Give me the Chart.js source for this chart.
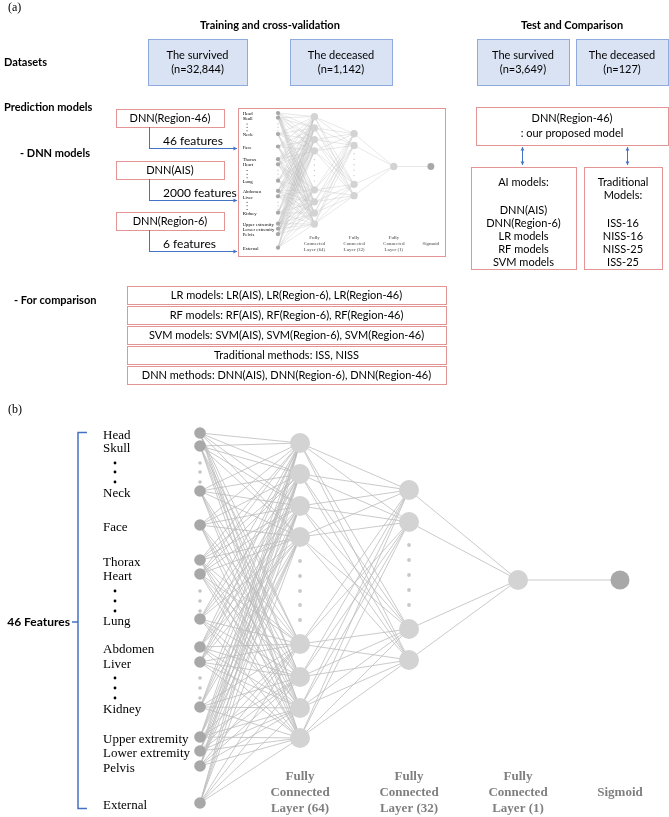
<!DOCTYPE html>
<html>
<head>
<meta charset="utf-8">
<script src="https://cdn.jsdelivr.net/npm/chart.js@4.4.1/dist/chart.umd.min.js"></script>
<style>
	html, body { margin: 0; padding: 0; background: #fff; }
	#wrap { width: 669px; height: 817px; }
</style>
</head>
<body>
<div id="wrap"><canvas id="diagrama" width="669" height="817"></canvas></div>
<script>
// network nodes (b)
inputLabels = ['Head', 'Skull', 'Neck', 'Face', 'Thorax', 'Heart', 'Lung', 'Abdomen', 'Liver', 'Kidney', 'Upper extremity', 'Lower extremity', 'Pelvis', 'External']
inputY = [433, 446, 491, 525, 560, 574, 619, 647, 662, 707, 737, 751, 766, 803]
inputDotY = [463, 472, 482, 591, 601, 611, 678, 688, 698]
fc64Y = [443, 474, 506, 537, 644, 677, 708, 738]
fc64DotY = [561, 576, 591, 605, 620]
fc32Y = [490, 522, 629, 660]
fc32DotY = [545, 560, 575, 590, 605]
fc1Y = [580]
sigmoidY = [580]
layerX = [200, 300, 409, 518, 620]
layerNames = [['Fully', 'Connected', 'Layer (64)'], ['Fully', 'Connected', 'Layer (32)'], ['Fully', 'Connected', 'Layer (1)'], ['Sigmoid']]

// flowchart texts (a)
trainSets = [['The survived', '(n=32,844)'], ['The deceased', '(n=1,142)']]
testSets = [['The survived', '(n=3,649)'], ['The deceased', '(n=127)']]
dnnModels = ['DNN(Region-46)', 'DNN(AIS)', 'DNN(Region-6)']
dnnFeatures = ['46 features', '2000 features', '6 features']
aiModels = ['AI models:', '', 'DNN(AIS)', 'DNN(Region-6)', 'LR models', 'RF models', 'SVM models']
tradModels = ['Traditional', 'Models:', '', 'ISS-16', 'NISS-16', 'NISS-25', 'ISS-25']
comparacao = ['LR models: LR(AIS), LR(Region-6), LR(Region-46)', 'RF models: RF(AIS), RF(Region-6), RF(Region-46)', 'SVM models: SVM(AIS), SVM(Region-6), SVM(Region-46)', 'Traditional methods: ISS, NISS', 'DNN methods: DNN(AIS), DNN(Region-6), DNN(Region-46)']

K = 0.364
function grande(x, y) { return { x: x, y: y } }
function mini(x, y) { return { x: 278 + (x - 200) * K, y: 113 + (y - 433) * K } }

function arestas(f) {
	var pts = []
	function liga(xa, ya, xb, yb) {
		for (var i = 0; i < ya.length; i++) {
			for (var j = 0; j < yb.length; j++) {
				pts.push(f(xa, ya[i]), f(xb, yb[j]), { x: 0, y: null })
			}
		}
	}
	liga(layerX[0], inputY, layerX[1], fc64Y)
	liga(layerX[1], fc64Y, layerX[2], fc32Y)
	liga(layerX[2], fc32Y, layerX[3], fc1Y)
	liga(layerX[3], fc1Y, layerX[4], sigmoidY)
	return pts
}

function nos(f, s) {
	function pontos(x, ys) { return ys.map((y) => f(x, y)) }
	var base = { type: 'scatter', pointBorderWidth: 0, pointHoverRadius: 0, order: 1 }
	return [
		Object.assign({}, base, { data: pontos(layerX[0], inputY), pointRadius: 5.8 * s, pointBackgroundColor: '#a8a8a8' }),
		Object.assign({}, base, { data: pontos(layerX[0], inputDotY), pointRadius: 1.8 * s, pointBackgroundColor: '#c4c4c4' }),
		Object.assign({}, base, { data: pontos(layerX[1], fc64Y).concat(pontos(layerX[2], fc32Y), pontos(layerX[3], fc1Y)), pointRadius: 10 * s, pointBackgroundColor: '#d3d3d3' }),
		Object.assign({}, base, { data: pontos(layerX[1], fc64DotY).concat(pontos(layerX[2], fc32DotY)), pointRadius: 1.9 * s, pointBackgroundColor: '#c8c8c8' }),
		Object.assign({}, base, { data: pontos(layerX[4], sigmoidY), pointRadius: 9.5 * s, pointBackgroundColor: '#a8a8a8' }),
	]
}

function linhas(f, w) {
	return {
		type: 'line', data: arestas(f), borderColor: '#bdbdbd', borderWidth: w,
		pointRadius: 0, spanGaps: false, fill: false, tension: 0, order: 2
	}
}

var desenho = {
	id: 'desenho',
	beforeDatasetsDraw(chart) {
		var ctx = chart.ctx, X = chart.scales.x, Y = chart.scales.y
		function caixa(x0, y0, x1, y1, cor, fundo) {
			var a = X.getPixelForValue(x0), b = Y.getPixelForValue(y0)
			var w = X.getPixelForValue(x1) - a, h = Y.getPixelForValue(y1) - b
			if (fundo) { ctx.fillStyle = fundo; ctx.fillRect(a, b, w, h) }
			ctx.strokeStyle = cor; ctx.lineWidth = 1
			ctx.strokeRect(Math.round(a) + 0.5, Math.round(b) + 0.5, Math.round(w), Math.round(h))
		}
		ctx.save()
		var azul = '#dae3f3', azulB = '#8faadc', verm = '#e49494'
		caixa(148, 39, 247, 85, azulB, azul)
		caixa(290, 39, 392, 85, azulB, azul)
		caixa(477, 39, 569, 85, azulB, azul)
		caixa(576, 39, 668, 85, azulB, azul)
		caixa(116, 109, 224, 127, verm)
		caixa(116, 161, 224, 179, verm)
		caixa(116, 212, 224, 230, verm)
		caixa(238, 108, 445, 256, verm)
		caixa(476, 107, 668, 145, verm)
		caixa(471, 167, 576, 269, verm)
		caixa(584, 167, 662, 269, verm)
		comparacao.forEach((t, i) => caixa(127, 286 + i * 20, 446, 304 + i * 20, verm))
		ctx.restore()
	},
	afterDatasetsDraw(chart) {
		var ctx = chart.ctx, X = chart.scales.x, Y = chart.scales.y
		function txt(s, x, y, font, cor, al) {
			ctx.font = font; ctx.fillStyle = cor || '#000'
			ctx.textAlign = al || 'center'; ctx.textBaseline = 'middle'
			ctx.fillText(s, X.getPixelForValue(x), Y.getPixelForValue(y))
		}
		function seta(x0, y0, x1, y1, duas) {
			var a = X.getPixelForValue(x0), b = Y.getPixelForValue(y0)
			var c = X.getPixelForValue(x1), d = Y.getPixelForValue(y1)
			ctx.strokeStyle = '#4472c4'; ctx.fillStyle = '#4472c4'; ctx.lineWidth = 1
			ctx.beginPath(); ctx.moveTo(a, b); ctx.lineTo(c, d); ctx.stroke()
			function ponta(px, py, ang) {
				ctx.beginPath(); ctx.moveTo(px, py)
				ctx.lineTo(px - 4 * Math.cos(ang - 0.5), py - 4 * Math.sin(ang - 0.5))
				ctx.lineTo(px - 4 * Math.cos(ang + 0.5), py - 4 * Math.sin(ang + 0.5))
				ctx.closePath(); ctx.fill()
			}
			var ang = Math.atan2(d - b, c - a)
			ponta(c, d, ang)
			if (duas) ponta(a, b, ang + Math.PI)
		}
		var sans = '11px Lato', bold = 'bold 11px Lato'
		ctx.save()
		txt('(a)', 8, 8, '12px "Liberation Serif"', '#000', 'left')
		txt('Training and cross-validation', 270, 25, bold)
		txt('Test and Comparison', 572, 25, bold)
		txt('Datasets', 4, 62, bold, '#000', 'left')
		txt('Prediction models', 4, 107, bold, '#000', 'left')
		txt('- DNN models', 20, 153, bold, '#000', 'left')
		txt('- For comparison', 14, 300, bold, '#000', 'left')
		var cx = [197.5, 341, 523, 622]
		trainSets.concat(testSets).forEach((l, i) => {
			txt(l[0], cx[i], 55, sans); txt(l[1], cx[i], 69, sans)
		})
		dnnModels.forEach((m, i) => {
			var y0 = [109, 161, 212][i]
			txt(m, 170, y0 + 9.5, sans)
			txt(dnnFeatures[i], 163, y0 + 32, '12px Lato', '#000', 'left')
			ctx.strokeStyle = '#4472c4'; ctx.lineWidth = 1
			ctx.beginPath(); ctx.moveTo(149.5, y0 + 18); ctx.lineTo(149.5, y0 + 39.5); ctx.stroke()
			seta(149, y0 + 39.5, 237, y0 + 39.5)
		})
		txt('DNN(Region-46)', 572, 118, sans)
		txt(': our proposed model', 572, 133, sans)
		seta(522.5, 147, 522.5, 165, true)
		seta(627.5, 147, 627.5, 165, true)
		aiModels.forEach((t, i) => { if (t) txt(t, 523.5, i < 2 ? 182 + i * 13 : 184 + i * 13, sans) })
		tradModels.forEach((t, i) => { if (t) txt(t, 623, i < 2 ? 182 + i * 13 : 184 + i * 13, sans) })
		comparacao.forEach((t, i) => txt(t, 286.5, 295.5 + i * 20, sans))

		// (b)
		txt('(b)', 8, 410, '12px "Liberation Serif"', '#000', 'left')
		ctx.strokeStyle = '#4472c4'; ctx.lineWidth = 1.5
		ctx.beginPath()
		ctx.moveTo(87, 432.5); ctx.lineTo(78, 432.5); ctx.lineTo(78, 808.5); ctx.lineTo(87, 808.5)
		ctx.moveTo(72, 622); ctx.lineTo(78, 622)
		ctx.stroke()
		txt('46 Features', 70, 622, 'bold 12px Lato', '#000', 'right')

		function rotulos(f, s) {
			inputLabels.forEach((l, i) => {
				var p = f(103, inputY[i] + 2.5)
				txt(l, p.x, p.y, (13 * s) + 'px "Liberation Serif"', '#000', 'left')
			})
			ctx.fillStyle = '#000'
			inputDotY.forEach((y) => {
				var p = f(115, y)
				ctx.beginPath(); ctx.arc(X.getPixelForValue(p.x), Y.getPixelForValue(p.y), 1.4 * s, 0, 2 * Math.PI); ctx.fill()
			})
			layerNames.forEach((ls, i) => {
				ls.forEach((l, j) => {
					var y = ls.length == 1 ? 793 : 777 + j * 16
					var p = f(layerX[i + 1], y)
					txt(l, p.x, p.y, 'bold ' + (13 * s) + 'px "Liberation Serif"', '#7f7f7f')
				})
			})
		}
		rotulos(grande, 1)
		rotulos(mini, K)
		ctx.restore()
	}
}

function geraDiagrama() {
	var ctx = document.getElementById('diagrama').getContext('2d')
	window.diagrama = new Chart(ctx, {
		type: 'scatter',
		data: {
			datasets: nos(grande, 1).concat(nos(mini, K), [linhas(grande, 0.8), linhas(mini, 0.35)])
		},
		options: {
			responsive: false,
			animation: false,
			layout: { padding: 0, autoPadding: false },
			plugins: {
				legend: { display: false },
				tooltip: { enabled: false },
			},
			scales: {
				x: { type: 'linear', min: 0, max: 669, display: false },
				y: { type: 'linear', min: 0, max: 817, reverse: true, display: false },
			},
		},
		plugins: [desenho],
	})
}

geraDiagrama()
</script>
</body>
</html>
